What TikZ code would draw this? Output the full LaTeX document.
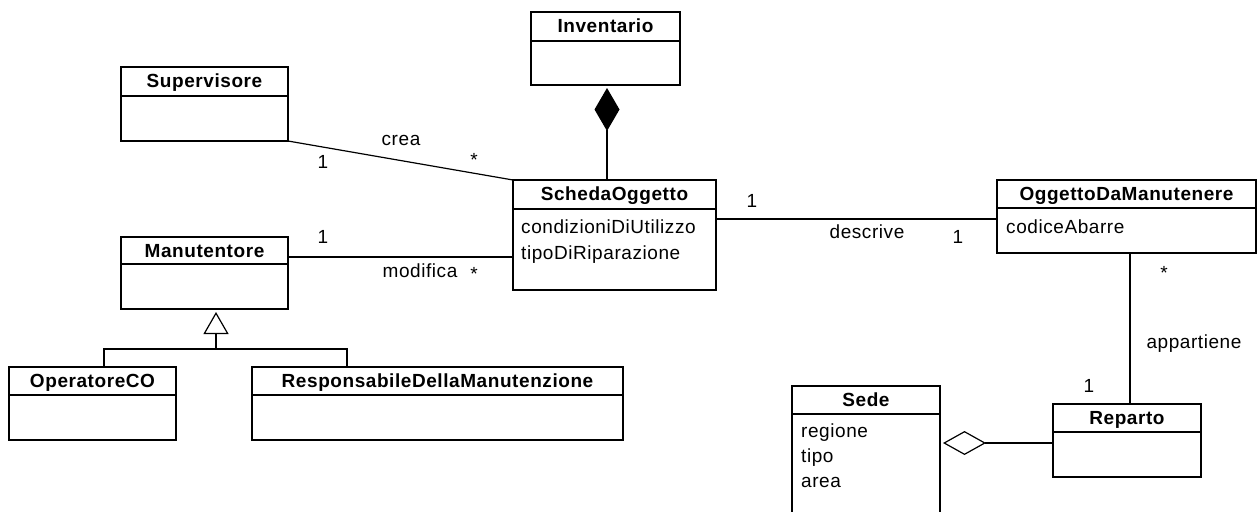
\documentclass[tikz,border=0pt]{standalone}
\usepackage{fontspec}
\setmainfont{Liberation Sans}[LetterSpace=3]
\usetikzlibrary{arrows.meta,fit}
\tikzset{
  box/.style={draw, line width=1.3pt, inner sep=0pt, outer sep=0pt},
  ln/.style={line width=1.2pt},
  ttl/.style={font=\fontsize{19}{21}\selectfont\bfseries, inner sep=0pt, anchor=base},
  txt/.style={font=\fontsize{19}{21}\selectfont, inner sep=0pt, anchor=base west},
  lbl/.style={font=\fontsize{19}{21}\selectfont, inner sep=0pt, anchor=base},
}
\newcommand{\umlcls}[7]{%
  \node[box, fit={(#2,#3) (#4,#5)}] (#1) {};
  \draw[ln] (#2,#6) -- (#4,#6);
  \node[ttl] (#1-t) at ({(#2+#4)/2},{#3+20.5}) {#7};
}
\begin{document}
\begin{tikzpicture}[x=1pt,y=-1pt]
\fill[white] (0,0) rectangle (1257,511);
\useasboundingbox (0,0) rectangle (1257,511);
\clip (0,0) rectangle (1257,511);

\umlcls{inv}{531}{12}{680}{85}{41}{Inventario}
\umlcls{sup}{121}{67}{288}{141}{96}{Supervisore}
\umlcls{sch}{513}{180}{716}{290}{209}{SchedaOggetto}
\umlcls{man}{121}{237}{288}{309}{264}{Manutentore}
\umlcls{odm}{997}{180}{1256}{253}{208}{OggettoDaManutenere}
\umlcls{opc}{9}{367}{176}{440}{395}{OperatoreCO}
\umlcls{res}{252}{367}{623}{440}{395}{ResponsabileDellaManutenzione}
\umlcls{sede}{792}{386}{940}{540}{414}{Sede}
\umlcls{rep}{1053}{404}{1201}{477}{432}{Reparto}

% attributes
\node[txt] (a1) at (521,233) {condizioniDiUtilizzo};
\node[txt] (a2) at (521,259) {tipoDiRiparazione};
\node[txt] (a3) at (1006,233) {codiceAbarre};
\node[txt] (a4) at (801,437) {regione};
\node[txt] (a5) at (801,462) {tipo};
\node[txt] (a6) at (801,487) {area};

% helper coordinates
\coordinate (ymod) at (0,257);
\coordinate (ydes) at (0,219);
\coordinate (xapp) at (1130,0);
\coordinate (yagg) at (0,443);
\coordinate (xcomp) at (607,0);
\coordinate (gbar) at (216,349);
\coordinate (g1) at (104,0);
\coordinate (g2) at (347,0);

% associations
\draw[ln] (sup.south east) -- (sch.north west);
\draw[ln] (man.east |- ymod) -- (sch.west |- ymod);
\draw[ln] (sch.east |- ydes) -- (odm.west |- ydes);
\draw[ln] (odm.south -| xapp) -- (rep.north -| xapp);

% composition
\draw[ln, shorten >=3pt, -{Diamond[length=43pt,width=25pt]}] (sch.north -| xcomp) -- (inv.south -| xcomp);
% aggregation
\draw[ln, shorten >=3pt, -{Diamond[open,fill=white,length=43pt,width=24pt]}] (rep.west |- yagg) -- (sede.east |- yagg);
% generalization
\draw[ln, shorten >=3pt, -{Triangle[open,fill=white,length=22pt,width=25pt]}] (gbar) -- (man.south -| gbar);
\draw[ln] (opc.north -| g1) |- (gbar) -| (res.north -| g2);

% labels
\node[lbl] (l1) at (401,145) {crea};
\node[lbl] (l2) at (323,168) {1};
\node[lbl] (l3) at (474,166) {*};
\node[lbl] (l4) at (323,243) {1};
\node[lbl] (l5) at (420,277) {modifica};
\node[lbl] (l6) at (474,280) {*};
\node[lbl] (l7) at (752,207) {1};
\node[lbl] (l8) at (867,238) {descrive};
\node[lbl] (l9) at (958,243) {1};
\node[lbl] (l10) at (1164,279) {*};
\node[lbl] (l11) at (1194,348) {appartiene};
\node[lbl] (l12) at (1089,392) {1};
\end{tikzpicture}
\end{document}
